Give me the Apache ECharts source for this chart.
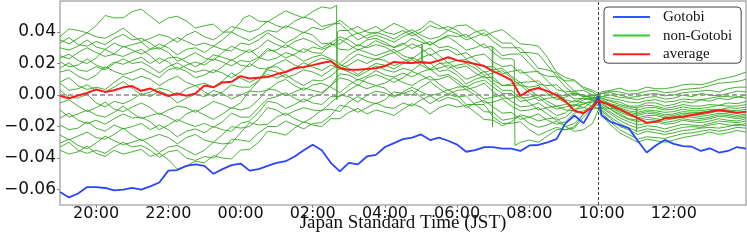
<!DOCTYPE html>
<html><head><meta charset="utf-8">
<script src="https://cdn.jsdelivr.net/npm/echarts@6/dist/echarts.min.js"></script>
<style>html,body{margin:0;padding:0;background:#fff}#c{width:747px;height:245px}</style>
</head><body><div id="c"></div>
<script>
// hours relative to midnight (JST); -5 = 19:00 of the previous day
const X_TICKS = [-4,-2,0,2,4,6,8,10,12];
const X_TICK_LABELS = ['20:00','22:00','00:00','02:00','04:00','06:00','08:00','10:00','12:00'];
const Y_TICKS = [-0.06,-0.04,-0.02,0,0.02,0.04];
const Y_TICK_LABELS = ['\u22120.06','\u22120.04','\u22120.02','0.00','0.02','0.04'];
const FIX_TIME = 9.917; // 09:55 fixing

const T15 = [-5,-4.75,-4.5,-4.25,-4,-3.75,-3.5,-3.25,-3,-2.75,-2.5,-2.25,-2,-1.75,-1.5,-1.25,-1,-0.75,-0.5,-0.25,0,0.25,0.5,0.75,1,1.25,1.5,1.75,2,2.25,2.5,2.75,3,3.25,3.5,3.75,4,4.25,4.5,4.75,5,5.25,5.5,5.75,6,6.25,6.5,6.75,7,7.25,7.5,7.75,8,8.25,8.5,8.75,9,9.25,9.5,9.75,9.917,10,10.25,10.5,10.75,11,11.25,11.5,11.75,12,12.25,12.5,12.75,13,13.25,13.5,13.75,14];

const GOTOBI = [-0.0616,-0.065,-0.0625,-0.0584,-0.0584,-0.059,-0.0605,-0.06,-0.059,-0.06,
-0.058,-0.0555,-0.048,-0.0476,-0.045,-0.044,-0.045,-0.05,-0.047,-0.0445,
-0.0435,-0.048,-0.047,-0.045,-0.043,-0.042,-0.039,-0.035,-0.0315,-0.035,
-0.043,-0.0485,-0.043,-0.044,-0.039,-0.038,-0.033,-0.0305,-0.028,-0.027,
-0.025,-0.0286,-0.027,-0.029,-0.0315,-0.036,-0.035,-0.033,-0.033,-0.034,
-0.034,-0.0355,-0.032,-0.0317,-0.03,-0.028,-0.018,-0.013,-0.018,-0.008,
-0.0005,-0.013,-0.017,-0.019,-0.021,-0.029,-0.0365,-0.032,-0.0285,-0.031,
-0.0324,-0.0328,-0.0355,-0.0338,-0.0365,-0.0355,-0.033,-0.034];

const AVERAGE = [-0.0006,-0.002,-0.0003,0.0013,0.0036,0.002,0.003,0.0049,0.0057,0.0027,
0.0042,0.0015,-0.0006,0.001,-0.0005,0.001,0.006,0.0049,0.008,0.0084,
0.012,0.0105,0.011,0.0114,0.0133,0.0146,0.017,0.0178,0.019,0.0203,
0.0215,0.017,0.016,0.016,0.0165,0.017,0.0184,0.021,0.0205,0.0203,
0.021,0.0203,0.022,0.024,0.022,0.021,0.0197,0.0184,0.015,0.0125,
0.0095,-0.0005,0.003,0.0045,0.0025,0,-0.004,-0.01,-0.0115,-0.0076,
-0.0035,-0.0044,-0.0064,-0.0089,-0.012,-0.0146,-0.0176,-0.017,-0.0148,-0.0142,
-0.0138,-0.0127,-0.0116,-0.0106,-0.0097,-0.0103,-0.0112,-0.0106];

// non-Gotobi days, same 15-minute grid as T15
const NG0 = [0.037,0.042,0.041,0.0395,0.044,0.0505,0.049,0.049,0.053,0.0545,
0.05,0.0455,0.049,0.05,0.047,0.0425,0.044,0.045,0.04,0.04,
0.046,0.0505,0.047,0.0465,0.05,0.0535,0.051,0.049,0.053,0.056,
0.055,0.041,0.041,0.0435,0.04,0.039,0.042,0.0455,0.043,0.0395,
0.042,0.047,0.044,0.041,0.044,0.0445,0.041,0.0375,0.04,0.0415,
0.037,0.0325,0.032,0.031,0.024,0.0145,0.011,0.0095,0.004,0.002,
-0.001,-0.002,-0.0035,-0.0045,-0.007,-0.007,-0.005,-0.005,-0.007,-0.006,
-0.004,-0.005,-0.003,-0.004,-0.002,-0.003,-0.001,-0.002];
const NG1 = [0.035,0.0325,0.036,0.0395,0.037,0.036,0.039,0.0425,0.038,0.034,
0.036,0.0385,0.037,0.0335,0.038,0.0405,0.037,0.035,0.039,0.0435,
0.042,0.04,0.042,0.047,0.044,0.0425,0.047,0.0495,0.048,0.0435,
0.045,0.0455,0.04,0.035,0.038,0.04,0.038,0.0355,0.039,0.0415,
0.038,0.0355,0.037,0.041,0.039,0.035,0.037,0.0395,0.034,0.03,
0.03,0.03,0.024,0.017,0.016,0.014,0.008,0.0025,0.003,0,
-0.0035,-0.005,-0.009,-0.012,-0.015,-0.016,-0.014,-0.015,-0.016,-0.015,
-0.014,-0.014,-0.015,-0.014,-0.0125,-0.013,-0.014,-0.013];
const NG2 = [0.033,0.0365,0.032,0.031,0.034,0.032,0.036,0.0385,0.035,0.036,
0.033,0.029,0.033,0.0365,0.034,0.0315,0.033,0.031,0.035,0.04,
0.037,0.0345,0.038,0.041,0.04,0.044,0.042,0.0395,0.043,0.0415,
0.044,0.0475,0.043,0.039,0.041,0.0435,0.04,0.0385,0.041,0.0375,
0.04,0.044,0.042,0.0435,0.041,0.0365,0.04,0.0415,0.037,0.033,
0.033,0.027,0.027,0.026,0.019,0.012,0.009,0.009,0.005,0.003,
0.001,0.002,0.003,0.0044,0.0025,0.003,0.005,0.004,0.004,0.005,
0.0065,0.007,0.0065,0.008,0.01,0.011,0.0125,0.0146];
const NG3 = [0.03,0.0285,0.031,0.035,0.0305,0.029,0.033,0.0305,0.032,0.0335,
0.029,0.0325,0.03,0.0255,0.029,0.03,0.027,0.031,0.029,0.028,
0.033,0.032,0.035,0.0395,0.036,0.033,0.036,0.04,0.038,0.0325,
0.033,0.029,0.0286,0.032,0.03,0.032,0.0305,0.027,0.029,0.0325,
0.03,0.025,0.028,0.029,0.0254,0.027,0.022,0.018,0.018,0.0135,
0.015,0.016,0.0114,0.007,0.006,0.0065,0.0013,-0.0025,-0.002,-0.003,
-0.007,-0.01,-0.015,-0.02,-0.022,-0.025,-0.023,-0.024,-0.025,-0.024,
-0.0225,-0.022,-0.021,-0.0205,-0.021,-0.02,-0.0185,-0.0195];
const NG4 = [0.025,0.023,0.027,0.03,0.027,0.0245,0.026,0.031,0.0286,0.026,
0.029,0.03,0.027,0.0215,0.024,0.027,0.0235,0.022,0.027,0.031,
0.0286,0.027,0.03,0.035,0.032,0.03,0.034,0.036,0.0336,0.03,
0.033,0.037,0.035,0.031,0.035,0.036,0.0336,0.03,0.032,0.036,
0.0336,0.032,0.035,0.037,0.033,0.0285,0.03,0.0325,0.027,0.023,
0.023,-0.03,-0.0286,-0.03,-0.026,-0.022,-0.022,-0.02,-0.012,-0.007,
-0.002,-0.004,-0.006,-0.008,-0.01,-0.011,-0.0095,-0.01,-0.011,-0.0105,
-0.009,-0.01,-0.01,-0.009,-0.0095,-0.008,-0.0085,-0.0076];
const NG5 = [0.0235,0.026,0.022,0.02,0.0235,0.029,0.026,0.0245,0.027,0.029,
0.025,0.02,0.0235,0.024,0.021,0.018,0.021,0.0255,0.024,0.022,
0.0254,0.029,0.024,0.022,0.0235,0.027,0.025,0.0215,0.024,0.0255,
0.023,0.02,0.0254,0.029,0.027,0.025,0.027,0.029,0.025,0.023,
0.027,0.03,0.025,0.0205,0.022,0.0225,0.019,0.0145,0.016,0.017,
0.012,0.008,0.0083,0.009,0.004,-0.001,0,0.0015,-0.001,-0.0005,
0,-0.001,0,-0.0015,-0.002,-0.003,-0.0015,-0.001,-0.0025,-0.002,
0,-0.001,0.001,0,-0.0005,0.001,0.0025,0.002];
const NG6 = [0.021,0.018,0.019,0.023,0.019,0.017,0.021,0.0195,0.022,0.024,
0.02,0.0235,0.021,0.016,0.019,0.021,0.019,0.023,0.021,0.0185,
0.022,0.021,0.024,0.0295,0.027,0.0235,0.026,0.0295,0.027,0.0265,
0.032,0.0325,0.037,0.0395,0.036,0.038,0.036,0.0335,0.037,0.0395,
0.036,0.0315,0.035,0.038,0.037,0.0385,0.034,0.03,0.0305,0.025,
0.026,0.026,0.02,0.014,0.012,0.0115,0.005,0.0005,0,-0.002,
-0.0045,-0.007,-0.011,-0.0145,-0.017,-0.019,-0.018,-0.017,-0.0185,-0.018,
-0.016,-0.017,-0.0175,-0.0165,-0.015,-0.016,-0.0165,-0.015];
const NG7 = [0.017,0.0205,0.016,0.015,0.018,0.016,0.02,0.023,0.02,0.021,
0.018,0.014,0.018,0.0205,0.017,0.0145,0.016,0.014,0.018,0.0225,
0.019,0.018,0.023,0.028,0.0286,0.032,0.029,0.027,0.0305,0.029,
0.031,0.0355,0.032,0.0285,0.031,0.0345,0.032,0.0305,0.033,0.0295,
0.032,0.034,0.03,0.031,0.0286,0.023,0.025,0.026,0.021,0.018,
0.019,0.014,0.0146,0.015,0.009,0.0035,0.002,0.0025,-0.001,-0.0015,
-0.0025,-0.004,-0.007,-0.01,-0.012,-0.013,-0.0115,-0.012,-0.0135,-0.013,
-0.0115,-0.012,-0.0125,-0.0114,-0.01,-0.011,-0.0115,-0.0105];
const NG8 = [0.0146,0.016,0.012,0.0095,0.0127,0.018,0.015,0.013,0.0146,0.017,
0.014,0.011,0.016,0.0175,0.015,0.011,0.0127,0.016,0.014,0.011,
0.0146,0.02,0.017,0.0165,0.02,0.0225,0.019,0.017,0.021,0.0235,
0.022,0.018,0.022,0.026,0.024,0.0225,0.025,0.027,0.023,0.02,
0.0235,0.026,0.021,0.017,0.019,0.02,0.017,0.0125,0.014,0.0155,
0.011,0.006,0.005,0.006,0.001,-0.003,-0.0013,0.001,-0.001,0,
0.0005,0.001,0.0025,0.002,0.0005,0.001,0.0025,0.003,0.0015,0.002,
0.0035,0.004,0.0045,0.006,0.0075,0.008,0.0085,0.01];
const NG9 = [0.0083,0.011,0.006,0.0035,0.005,0.0035,0.008,0.012,0.0095,0.012,
0.01,0.006,0.0095,0.012,0.008,0.006,0.0076,0.005,0.009,0.014,
0.0108,0.008,0.011,0.013,0.0108,0.013,0.009,0.006,0.0095,0.009,
0.012,0.017,0.0146,0.012,0.015,0.0185,0.016,0.0145,0.017,0.0155,
0.02,0.0205,0.015,0.016,0.0127,0.007,0.01,0.012,0.0076,0.003,
0.003,-0.002,-0.0013,0,-0.004,-0.007,-0.006,-0.0035,-0.005,-0.007,
-0.009,-0.013,-0.019,-0.024,-0.027,-0.03,-0.028,-0.029,-0.03,-0.0286,
-0.027,-0.026,-0.025,-0.0235,-0.025,-0.024,-0.0225,-0.0235];
const NG10 = [0.0076,0.003,0.004,0.0065,0.003,0.002,0.005,0.0085,0.0044,0,
0.002,0.0045,0.003,-0.0005,0.004,0.006,0.002,-0.001,0.002,0.0065,
0.005,0.005,0.009,0.016,0.0146,0.011,0.013,0.016,0.0146,0.012,
0.016,0.0195,0.017,0.013,0.017,0.02,0.019,0.0165,0.02,0.0225,
0.019,0.016,0.017,0.019,0.0146,0.01,0.012,0.015,0.0095,0.006,
0.006,0.0065,0.0013,-0.0035,-0.002,-0.0015,-0.005,-0.007,-0.003,-0.002,
-0.001,-0.002,-0.004,-0.006,-0.0075,-0.008,-0.0065,-0.007,-0.0085,-0.0076,
-0.006,-0.007,-0.007,-0.006,-0.0065,-0.005,-0.0055,-0.004];
const NG11 = [0.003,-0.0015,-0.002,0.0005,-0.005,-0.0075,-0.004,-0.0055,-0.003,0.001,
-0.001,0.0025,0,-0.005,-0.002,0.0005,-0.001,0.003,0.001,-0.0025,
0,0.0025,0.009,0.0175,0.018,0.0145,0.017,0.0205,0.0178,0.0155,
0.019,0.017,0.019,0.0225,0.02,0.023,0.022,0.0185,0.021,0.024,
0.021,0.0165,0.02,0.0205,0.017,0.0185,0.014,0.011,0.0114,0.006,
0.007,0.008,0.003,-0.0005,0,0.0015,-0.003,-0.0045,-0.002,-0.003,
-0.005,-0.008,-0.012,-0.016,-0.019,-0.021,-0.0195,-0.02,-0.0215,-0.02,
-0.0185,-0.019,-0.0195,-0.018,-0.0165,-0.017,-0.0175,-0.0165];
const NG12 = [-0.005,-0.003,-0.007,-0.0105,-0.008,-0.0045,-0.009,-0.0105,-0.0076,-0.005,
-0.008,-0.0125,-0.0095,-0.007,-0.008,-0.011,-0.0076,-0.004,-0.006,-0.0085,
-0.005,0.0025,0.002,0.003,0.0076,0.01,0.006,0.003,0.0064,0.0075,
0.005,0.0015,0.0064,0.01,0.008,0.006,0.0076,0.011,0.008,0.006,
0.0095,0.012,0.007,0.003,0.005,0.0055,0.002,-0.0025,-0.0013,0,
-0.004,-0.0075,-0.007,-0.005,-0.009,-0.013,-0.0114,-0.0065,-0.006,-0.003,
0,0.001,0.0015,0,-0.0015,-0.001,0.0005,0.001,-0.0005,0,
0.0015,0.002,0.0025,0.003,0.002,0.004,0.005,0.005];
const NG13 = [-0.0095,-0.014,-0.012,-0.0095,-0.0127,-0.014,-0.011,-0.007,-0.0114,-0.015,
-0.013,-0.0115,-0.014,-0.017,-0.012,-0.0095,-0.0127,-0.0155,-0.012,-0.008,
-0.0095,-0.008,-0.003,0.004,0.003,-0.0005,0.002,0.0045,0.003,0.0015,
0.006,0.011,0.0095,0.006,0.011,0.013,0.0108,0.008,0.011,0.015,
0.0127,0.0095,0.01,0.012,0.0076,0.0035,0.005,0.0075,0.002,-0.002,
-0.002,-0.0005,-0.005,-0.0095,-0.008,-0.007,-0.0095,-0.01,-0.005,-0.0045,
-0.003,-0.004,-0.0075,-0.011,-0.013,-0.0145,-0.013,-0.013,-0.0145,-0.014,
-0.0125,-0.013,-0.0135,-0.0127,-0.0115,-0.012,-0.013,-0.012];
const NG14 = [-0.0146,-0.0115,-0.016,-0.018,-0.016,-0.0185,-0.015,-0.012,-0.0146,-0.014,
-0.017,-0.022,-0.019,-0.0155,-0.018,-0.02,-0.018,-0.0205,-0.017,-0.0115,
-0.014,-0.014,-0.008,-0.0025,-0.001,0.0015,-0.002,-0.0045,-0.001,0.0005,
0.006,0.0135,0.0127,0.0095,0.012,0.0155,0.0127,0.0115,0.014,0.0115,
0.0146,0.0165,0.012,0.013,0.0095,0.005,0.008,0.0095,0.005,0.001,
0.001,-0.004,-0.003,-0.0015,-0.006,-0.009,-0.0076,-0.006,-0.008,-0.009,
-0.008,-0.011,-0.017,-0.022,-0.025,-0.028,-0.0265,-0.027,-0.0275,-0.026,
-0.0245,-0.024,-0.023,-0.022,-0.023,-0.022,-0.0205,-0.021];
const NG15 = [-0.019,-0.022,-0.021,-0.017,-0.021,-0.023,-0.019,-0.0215,-0.02,-0.018,
-0.022,-0.019,-0.022,-0.0265,-0.023,-0.0215,-0.024,-0.02,-0.022,-0.023,
-0.018,-0.0165,-0.011,-0.004,-0.005,-0.0085,-0.006,-0.0025,-0.005,-0.006,
-0.001,-0.001,0.003,0.0065,0.004,0.006,0.0044,-0.0005,0.001,0.003,
-0.0013,-0.0055,-0.002,0.0005,-0.0013,-0.0005,-0.006,-0.0105,-0.011,-0.016,
-0.015,-0.0135,-0.018,-0.0205,-0.019,-0.0165,-0.02,-0.018,-0.012,-0.006,
-0.0015,-0.003,-0.0055,-0.007,-0.0085,-0.0095,-0.008,-0.008,-0.0095,-0.009,
-0.0075,-0.0085,-0.0085,-0.0076,-0.0065,-0.007,-0.007,-0.006];
const NG16 = [-0.0254,-0.0285,-0.026,-0.0235,-0.027,-0.028,-0.025,-0.021,-0.0254,-0.029,
-0.027,-0.025,-0.027,-0.031,-0.027,-0.025,-0.0286,-0.03,-0.025,-0.02,
-0.021,-0.02,-0.015,-0.008,-0.0095,-0.013,-0.01,-0.008,-0.0095,-0.01,
-0.005,0,-0.001,-0.0045,0,0.0025,0.0013,-0.0015,0.002,0.005,
0.002,-0.0005,0.001,0.0035,0,-0.006,-0.006,-0.006,-0.014,-0.018,
-0.018,-0.017,-0.022,-0.0255,-0.023,-0.0205,-0.022,-0.021,-0.014,-0.008,
-0.004,-0.006,-0.009,-0.013,-0.0155,-0.017,-0.0155,-0.016,-0.0175,-0.0165,
-0.015,-0.016,-0.016,-0.015,-0.0135,-0.014,-0.015,-0.014];
const NG17 = [-0.0305,-0.028,-0.032,-0.034,-0.0305,-0.026,-0.029,-0.0315,-0.03,-0.028,
-0.032,-0.0365,-0.033,-0.032,-0.035,-0.038,-0.035,-0.03,-0.031,-0.0305,
-0.024,-0.0175,-0.019,-0.0185,-0.014,-0.0115,-0.015,-0.0175,-0.014,-0.0095,
-0.009,-0.0105,-0.0044,-0.001,-0.004,-0.0055,-0.003,0.002,0.001,0,
0.005,0.0085,0.004,0.0005,0.003,0.0035,0,-0.005,-0.0044,-0.0025,
-0.007,-0.01,-0.0095,-0.008,-0.012,-0.016,-0.014,-0.009,-0.008,-0.004,
-0.0005,-0.001,-0.002,-0.003,-0.0045,-0.005,-0.0035,-0.003,-0.0045,-0.004,
-0.0025,-0.003,-0.003,-0.002,-0.001,-0.001,-0.0015,0];
const NG18 = [-0.033,-0.03,-0.035,-0.037,-0.035,-0.037,-0.033,-0.03,-0.033,-0.032,
-0.035,-0.0395,-0.036,-0.035,-0.04,-0.0415,-0.039,-0.04,-0.035,-0.028,
-0.0286,-0.0295,-0.024,-0.02,-0.02,-0.0165,-0.019,-0.0215,-0.018,-0.0175,
-0.013,-0.0065,-0.0076,-0.011,-0.008,-0.005,-0.0076,-0.0085,-0.005,-0.007,
-0.003,-0.0005,-0.004,-0.0015,-0.003,-0.008,-0.005,-0.0035,-0.0076,-0.0115,
-0.011,-0.0155,-0.014,-0.012,-0.016,-0.0185,-0.017,-0.0115,-0.01,-0.008,
-0.006,-0.009,-0.014,-0.018,-0.021,-0.023,-0.0215,-0.022,-0.0235,-0.022,
-0.0205,-0.02,-0.0205,-0.019,-0.018,-0.019,-0.0195,-0.018];
const NG19 = [-0.035,-0.0375,-0.036,-0.0325,-0.037,-0.039,-0.035,-0.0375,-0.036,-0.0345,
-0.039,-0.037,-0.041,-0.047,-0.045,-0.042,-0.043,-0.0385,-0.04,-0.0405,
-0.035,-0.0345,-0.03,-0.023,-0.024,-0.0255,-0.021,-0.017,-0.019,-0.02,
-0.015,-0.015,-0.011,-0.0085,-0.012,-0.0095,-0.011,-0.013,-0.009,-0.0055,
-0.0076,-0.012,-0.008,-0.006,-0.0076,-0.0065,-0.011,-0.0155,-0.016,-0.0195,
-0.017,-0.0125,-0.014,-0.0165,-0.015,-0.0145,-0.02,-0.023,-0.022,-0.018,
-0.009,-0.008,-0.0085,-0.009,-0.011,-0.012,-0.0105,-0.011,-0.0125,-0.012,
-0.0105,-0.011,-0.011,-0.01,-0.009,-0.0095,-0.01,-0.009];

// isolated jumps seen in single non-Gotobi series: [series index, hour, value]
const SPIKES = [[0,0.08,0.049],[0,2.66,0.057],[0,2.67,-0.003],[0,2.68,0.04],
[9,5.03,0.032],[9,5.05,0.02],[6,6.97,0.031],[6,6.98,-0.02],[6,6.99,0.0305],
[4,7.58,0.022],[4,7.6,-0.032],[10,10.96,-0.008],[10,10.97,-0.0235],[10,10.98,-0.008]];

const GREEN_LINES = [NG0,NG1,NG2,NG3,NG4,NG5,NG6,NG7,NG8,NG9,NG10,NG11,NG12,NG13,NG14,NG15,NG16,NG17,NG18,NG19];

const chart = echarts.init(document.getElementById('c'), null, {renderer:'canvas'});

const bad = GREEN_LINES.map((a, i) => a.length !== T15.length ? i + ':' + a.length : null).filter(Boolean);

const greenSeries = GREEN_LINES.map((vals, i) => {
  const pts = T15.map((t, k) => [t, vals[k]]);
  SPIKES.filter(s => s[0] === i).forEach(s => pts.push([s[1], s[2]]));
  pts.sort((a, b) => a[0] - b[0]);
  return {
    name: 'non-Gotobi', type: 'line', data: pts, symbol: 'none', silent: true,
    lineStyle: {color: 'rgb(50,168,30)', width: 0.9},
    itemStyle: {color: '#33cc33'}, z: 2
  };
});

const pick = (ticks, labels, v) => {
  const i = ticks.findIndex(t => Math.abs(t - v) < 1e-9);
  return i >= 0 ? labels[i] : '';
};

chart.setOption({
  animation: false,
  backgroundColor: '#fff',
  grid: {left: 60, right: 1, top: 1, bottom: 40, outerBoundsMode: 'none', containLabel: false,
    show: true, borderColor: '#b0b0b0', borderWidth: 1.5, backgroundColor: '#fff'},
  legend: {
    orient: 'vertical', left: 604, top: 7,
    data: [
      {name: 'Gotobi', icon: 'rect'},
      {name: 'non-Gotobi', icon: 'rect'},
      {name: 'average', icon: 'rect'}
    ],
    itemWidth: 37, itemHeight: 2, itemGap: 2.6,
    textStyle: {fontFamily: 'Liberation Serif', fontSize: 15, color: '#111', lineHeight: 16, padding: [0, 0, 0, 8]},
    borderColor: '#444', borderWidth: 1, borderRadius: 4, padding: [2, 9, 1, 9],
    backgroundColor: '#fff', selectedMode: false
  },
  graphic: bad.length ? [{type: 'text', left: 100, top: 100, style: {text: 'LEN ' + bad.join(','), fill: 'red', fontSize: 20}}] : [],
  xAxis: {
    type: 'value', min: -5, max: 14,
    axisLine: {show: false, onZero: false}, splitLine: {show: false},
    axisTick: {show: true, customValues: X_TICKS, length: 3, lineStyle: {color: '#888'}},
    axisLabel: {customValues: X_TICKS, formatter: v => pick(X_TICKS, X_TICK_LABELS, v),
      fontFamily: 'DejaVu Sans', fontSize: 16, color: '#111', margin: 1},
    name: 'Japan Standard Time (JST)', nameLocation: 'middle', nameGap: 9, nameMoveOverlap: false,
    nameTextStyle: {fontFamily: 'Liberation Serif', fontSize: 19, color: '#111', verticalAlign: 'top'}
  },
  yAxis: {
    type: 'value', min: -0.0698, max: 0.0597,
    axisLine: {show: false, onZero: false}, splitLine: {show: false},
    axisTick: {show: true, customValues: Y_TICKS, length: 3, lineStyle: {color: '#888'}},
    axisLabel: {customValues: Y_TICKS, formatter: v => pick(Y_TICKS, Y_TICK_LABELS, v),
      fontFamily: 'DejaVu Sans', fontSize: 17, color: '#111', margin: 4}
  },
  series: [
    ...greenSeries,
    {
      name: 'ref', type: 'line', data: [], silent: true, z: 3,
      markLine: {
        silent: true, symbol: 'none', animation: false, label: {show: false},
        data: [
          {yAxis: 0, lineStyle: {type: [5, 3], color: '#888', width: 1.5}},
          {xAxis: FIX_TIME, lineStyle: {type: [3, 2], color: '#444', width: 1}}
        ]
      }
    },
    {
      name: 'Gotobi', type: 'line', data: T15.map((t, k) => [t, GOTOBI[k]]), symbol: 'none', silent: true, z: 4,
      lineStyle: {color: '#2a44ff', width: 1.8}, itemStyle: {color: '#3355ff'}
    },
    {
      name: 'average', type: 'line', data: T15.map((t, k) => [t, AVERAGE[k]]), symbol: 'none', silent: true, z: 5,
      lineStyle: {color: '#ff1a1a', width: 2}, itemStyle: {color: '#ff2222'}
    }
  ]
});
</script></body></html>
